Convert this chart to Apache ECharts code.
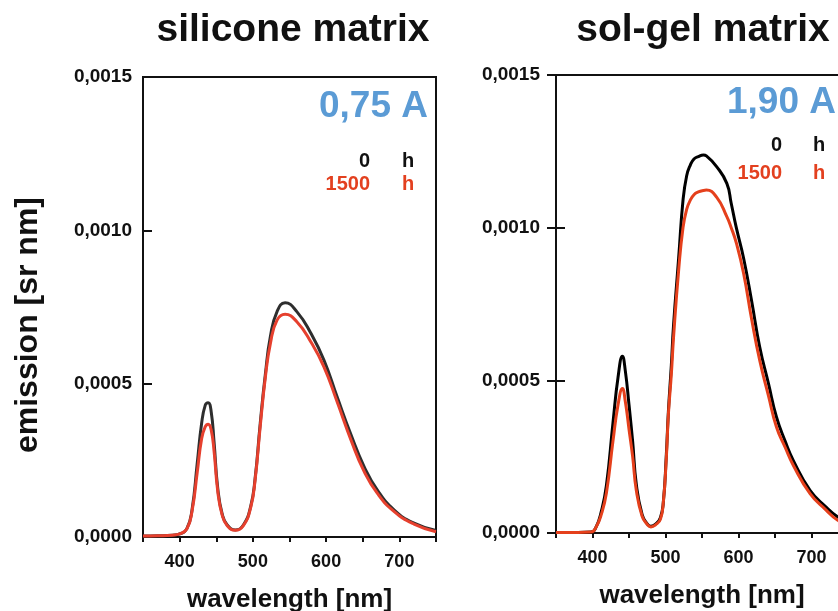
<!DOCTYPE html>
<html>
<head>
<meta charset="utf-8">
<script src="https://cdn.jsdelivr.net/npm/echarts@6/dist/echarts.min.js"></script>
<style>
html,body{margin:0;padding:0;background:#fff;}
#c{width:838px;height:611px;}
</style>
</head>
<body>
<div id="c"></div>
<script>
// ---- data: silicone matrix, 0,75 A ----
var siliconeWl = [350, 370, 390, 400, 410, 417, 424, 430, 435, 439, 443, 447, 452, 458, 465, 476, 487, 497, 503, 510, 517, 524, 533, 544, 560, 579, 597, 615, 634, 652, 670, 693, 720, 750];
var silicone0h = [0.000003, 0.000004, 0.000006, 0.00001, 0.000028, 0.00009, 0.00024, 0.00037, 0.00043, 0.000438, 0.00041, 0.00031, 0.00016, 0.000076, 0.000039, 0.000023, 0.000039, 0.0001, 0.00019, 0.00037, 0.00053, 0.000655, 0.000735, 0.000764, 0.000735, 0.000665, 0.000577, 0.000457, 0.000333, 0.000229, 0.000153, 0.000088, 0.000045, 0.000021];
var silicone1500h = [0.000003, 0.000004, 0.000006, 0.00001, 0.000027, 0.000085, 0.00021, 0.00032, 0.00036, 0.000368, 0.00035, 0.00028, 0.00015, 0.000072, 0.000037, 0.000022, 0.000037, 0.000096, 0.000185, 0.00036, 0.00052, 0.000632, 0.000707, 0.000726, 0.000702, 0.000637, 0.000555, 0.000441, 0.000316, 0.000213, 0.000142, 0.000083, 0.000042, 0.000017];

// ---- data: sol-gel matrix, 1,90 A ----
var solgelWl = [350, 380, 398, 405, 412, 419, 428, 435, 441, 445, 450, 455, 460, 468, 475, 480, 487, 493, 497, 501, 504, 508, 511, 518, 524, 529, 534, 539, 545, 552, 556, 570, 584, 590, 597, 607, 618, 629, 641, 652, 664, 675, 698, 720, 736, 750];
var solgel0h = [0.000002, 0.000002, 0.000003, 0.00002, 0.00007, 0.000155, 0.00036, 0.00051, 0.000579, 0.00053, 0.00042, 0.0003, 0.00016, 0.00006, 0.00003, 0.000022, 0.00003, 0.00005, 0.0001, 0.00025, 0.0004, 0.00055, 0.00068, 0.0009, 0.00109, 0.00117, 0.001205, 0.001225, 0.001233, 0.001238, 0.001235, 0.0012, 0.001145, 0.00108, 0.001, 0.0009, 0.00076, 0.00061, 0.00049, 0.00038, 0.0003, 0.000238, 0.00014, 0.000085, 0.0000525, 0.000035];
var solgel1500h = [0.000002, 0.000002, 0.000003, 0.00002, 0.00006, 0.00013, 0.0003, 0.00042, 0.000473, 0.00043, 0.00034, 0.00025, 0.00014, 0.000055, 0.000028, 0.00002, 0.000028, 0.000045, 0.0001, 0.00024, 0.00039, 0.00052, 0.00064, 0.00086, 0.001, 0.00106, 0.00109, 0.001108, 0.001117, 0.001122, 0.001123, 0.0011, 0.001036, 0.001, 0.00095, 0.00085, 0.0007, 0.000566, 0.00045, 0.000347, 0.00028, 0.000222, 0.000129, 0.000075, 0.0000416, 0.000028];

// ---- axes / labels ----
var xMin = 350, xMax = 750, xStep = 50;
var yMin = 0, yMax = 0.0015, yStep = 0.0005;
var titles = ['silicone matrix', 'sol-gel matrix'];
var currents = ['0,75 A', '1,90 A'];
var legendHours = ['0', '1500'];
var xName = 'wavelength [nm]';
var yName = 'emission [sr nm]';

function zip(xs, ys) { return xs.map(function (x, i) { return [x, ys[i]]; }); }

var FONT = 'Liberation Sans, Arial, Helvetica, sans-serif';
var BLUE = '#5b9bd5';
var RED_L = '#e6402e';
var RED_R = '#e5401c';
var RED_T = '#e3401f';

var chart = echarts.init(document.getElementById('c'), null, {renderer: 'canvas'});

function xAxis(grid) {
  return {
    type: 'value', gridIndex: grid, min: xMin, max: xMax, interval: xStep,
    name: xName, nameLocation: 'middle', nameGap: grid === 0 ? 50 : 50,
    nameTextStyle: {fontFamily: FONT, fontWeight: 'bold', fontSize: 26, color: '#111', verticalAlign: 'top'},
    axisLine: {show: true, onZero: false, lineStyle: {color: '#111', width: 2}},
    axisTick: {show: true, inside: false, length: 5, lineStyle: {color: '#111', width: 2}},
    axisLabel: {show: true, margin: 16, fontFamily: FONT, fontWeight: 'bold', fontSize: 18, color: '#111',
      formatter: function (v) { return v % 100 === 0 ? String(v) : ''; }},
    splitLine: {show: false}
  };
}
function yFmt(v) { return v.toFixed(4).replace('.', ','); }
function yAxisMain(grid, tickOut) {
  return {
    type: 'value', gridIndex: grid, min: yMin, max: yMax, interval: yStep, position: 'left',
    axisLine: {show: true, onZero: false, lineStyle: {color: '#111', width: 2}},
    axisTick: {show: true, inside: !tickOut, length: 9, lineStyle: {color: '#111', width: 2}},
    axisLabel: {show: true, margin: grid === 0 ? 11 : 16, fontFamily: FONT, fontWeight: 'bold', fontSize: 19, color: '#111', formatter: yFmt},
    splitLine: {show: false}
  };
}
function yAxisInner(grid) {
  return {
    type: 'value', gridIndex: grid, min: yMin, max: yMax, interval: yStep, position: 'left', offset: 0,
    axisLine: {show: false},
    axisTick: {show: true, inside: true, length: 9, lineStyle: {color: '#111', width: 2}},
    axisLabel: {show: false},
    splitLine: {show: false}
  };
}

function line(name, xi, yi, xs, ys, color) {
  return {
    name: name, type: 'line', xAxisIndex: xi, yAxisIndex: yi,
    data: zip(xs, ys), showSymbol: false, symbol: 'none',
    smooth: 0.5,
    lineStyle: {color: color, width: 3}, animation: false, silent: true
  };
}

function txt(text, x, y, size, color, align, rot) {
  var t = {type: 'text', x: x, y: y, silent: true,
    style: {text: text, fontFamily: FONT, fontWeight: 'bold', fontSize: size, fill: color, align: align, verticalAlign: 'middle'}};
  if (rot) { t.rotation = rot; }
  return t;
}

var option = {
  backgroundColor: '#fff',
  animation: false,
  grid: [
    {left: 143, top: 77, width: 293, height: 460, show: true, borderColor: '#111', borderWidth: 2, backgroundColor: 'transparent', outerBoundsMode: 'none', containLabel: false},
    {left: 556, top: 75, width: 292, height: 458, show: true, borderColor: '#111', borderWidth: 2, backgroundColor: 'transparent', outerBoundsMode: 'none', containLabel: false}
  ],
  xAxis: [xAxis(0), xAxis(1)],
  yAxis: [yAxisMain(0, false), yAxisMain(1, true), yAxisInner(1)],
  series: [
    line('0 h', 0, 0, siliconeWl, silicone0h, '#2e2e2e'),
    line('1500 h', 0, 0, siliconeWl, silicone1500h, RED_L),
    line('0 h', 1, 1, solgelWl, solgel0h, '#000'),
    line('1500 h', 1, 1, solgelWl, solgel1500h, RED_R)
  ],
  graphic: [
    txt(titles[0], 293, 30, 39, '#111', 'center'),
    txt(titles[1], 703, 30, 39, '#111', 'center'),
    txt(yName, 28, 325, 32, '#111', 'center', Math.PI / 2),
    txt(currents[0], 428, 107, 37, BLUE, 'right'),
    txt(legendHours[0], 370, 161, 20, '#111', 'right'),
    txt('h', 402, 161, 20, '#111', 'left'),
    txt(legendHours[1], 370, 184, 20, RED_T, 'right'),
    txt('h', 402, 184, 20, RED_T, 'left'),
    txt(currents[1], 727, 103, 37, BLUE, 'left'),
    txt(legendHours[0], 782, 145, 20, '#111', 'right'),
    txt('h', 813, 145, 20, '#111', 'left'),
    txt(legendHours[1], 782, 173, 20, RED_T, 'right'),
    txt('h', 813, 173, 20, RED_T, 'left')
  ]
};
chart.setOption(option);
</script>
</body>
</html>
